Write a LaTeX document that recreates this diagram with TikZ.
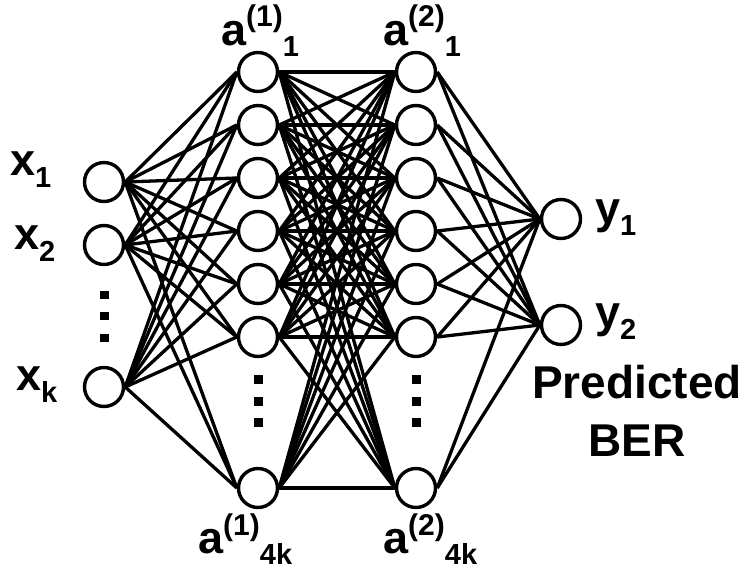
\documentclass[tikz,border=0pt]{standalone}
\usepackage{fontspec}
\setmainfont{Liberation Sans}
\newcommand{\subs}[1]{\raisebox{-12pt}{\fontsize{29}{29}\selectfont #1}}
\newcommand{\asubs}[1]{\raisebox{-11pt}{\fontsize{29}{29}\selectfont #1}}
\newcommand{\sups}[1]{\raisebox{18pt}{\fontsize{30}{30}\selectfont #1}}
\begin{document}
\begin{tikzpicture}[x=1pt,y=-1pt,
  neuron/.style={circle,draw,line width=3.4pt,fill=white,minimum size=39pt,inner sep=0pt},
  conn/.style={line width=3.3pt},
  lbl/.style={anchor=base west,inner sep=0pt,font=\fontsize{45}{45}\selectfont\bfseries},
  clbl/.style={anchor=base,inner sep=0pt,font=\fontsize{46}{46}\selectfont\bfseries}]
\useasboundingbox (0,0) rectangle (746,570);
% input layer
\node[neuron] (x1) at (104,182) {};
\node[neuron] (x2) at (104,245) {};
\node[neuron] (x3) at (104,387) {};
% hidden layers
\foreach \j/\yy in {1/72,2/125,3/178,4/231,5/284,6/337,7/488}{
  \node[neuron] (h\j) at (258,\yy) {};
  \node[neuron] (g\j) at (416,\yy) {};
}
% output
\node[neuron] (y1) at (561,219) {};
\node[neuron] (y2) at (561,325) {};
% connections
\foreach \i in {1,2,3}{\foreach \j in {1,...,7}{\draw[conn] (x\i.east) -- (h\j.west);}}
\foreach \i in {1,...,7}{\foreach \j in {1,...,7}{\draw[conn] (h\i.east) -- (g\j.west);}}
\foreach \i in {1,...,7}{\foreach \j in {1,2}{\draw[conn] (g\i.east) -- (y\j.west);}}
% dots
\foreach \yy in {295,316,338}{\fill (99.5,\yy-4) rectangle (108.5,\yy+4);}
\foreach \yy in {379,401,422}{
  \fill (253.5,\yy-4.5) rectangle (262.5,\yy+4.5);
  \fill (411.5,\yy-4.5) rectangle (420.5,\yy+4.5);
}
% labels
\node[lbl] (lx1) at (10,175) {x\subs{1}};
\node[lbl] (lx2) at (14,249) {x\subs{2}};
\node[lbl] (lx3) at (16,390) {x\subs{k}};
\node[lbl] (la1) at (221,45) {a\sups{(1)}\asubs{1}};
\node[lbl] (lb1) at (383,45) {a\sups{(2)}\asubs{1}};
\node[lbl] (la7) at (198,553) {a\sups{(1)}\asubs{4k}};
\node[lbl] (lb7) at (383,553) {a\sups{(2)}\asubs{4k}};
\node[lbl] (ly1) at (595,223) {y\subs{1}};
\node[lbl] (ly2) at (595,327) {y\subs{2}};
\node[clbl] (pr) at (637,398) {Predicted};
\node[clbl] (ber) at (637,456) {BER};
\end{tikzpicture}
\end{document}
